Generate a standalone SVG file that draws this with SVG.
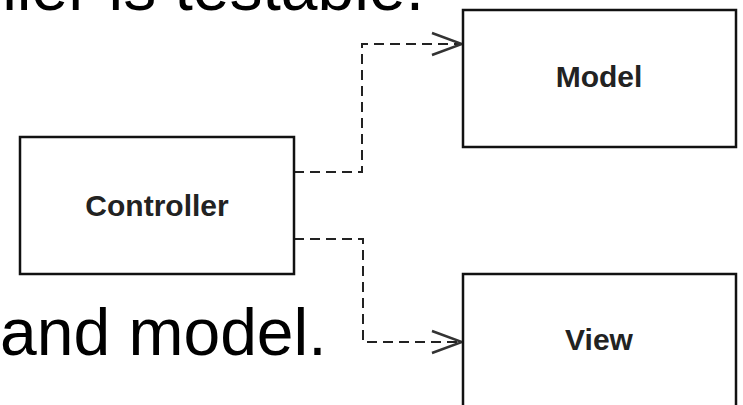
<svg xmlns="http://www.w3.org/2000/svg" width="743" height="405" viewBox="0 0 743 405">
  <style>
    .slide { font-family: "Liberation Sans", Arial, sans-serif; font-size: 66px; fill: #000; }
    .box { fill: #fff; stroke: #111; stroke-width: 2.5; }
    .label { font-family: "Liberation Sans", Arial, sans-serif; font-size: 30px; font-weight: bold; fill: #222; text-anchor: middle; }
    .dep { fill: none; stroke: #222; stroke-width: 2; stroke-dasharray: 10 6; }
  </style>
  <defs>
    <marker id="open-arrow" markerUnits="userSpaceOnUse" markerWidth="34" markerHeight="26" viewBox="0 0 34 26" refX="32" refY="13" orient="auto">
      <path d="M2,2 L32,13 L2,24" fill="none" stroke="#333" stroke-width="2.5" stroke-dasharray="none"/>
    </marker>
  </defs>
  <rect width="743" height="405" fill="#fff"/>

  <!-- slide text around the figure -->
  <text class="slide" x="424" y="10" text-anchor="end">Controller is testable.</text>
  <text class="slide" x="0" y="355">and model.</text>

  <g id="connectors">
    <path class="dep" d="M294,172 H362 V44 H462" marker-end="url(#open-arrow)"/>
    <path class="dep" d="M294,239 H363 V342 H462" marker-end="url(#open-arrow)"/>
  </g>

  <g id="controller">
    <rect class="box" x="20" y="137" width="274" height="137"/>
    <text class="label" x="157" y="216">Controller</text>
  </g>
  <g id="model">
    <rect class="box" x="463" y="10" width="273" height="137"/>
    <text class="label" x="599" y="87">Model</text>
  </g>
  <g id="view">
    <rect class="box" x="463" y="274" width="273" height="150"/>
    <text class="label" x="599" y="350">View</text>
  </g>
</svg>
